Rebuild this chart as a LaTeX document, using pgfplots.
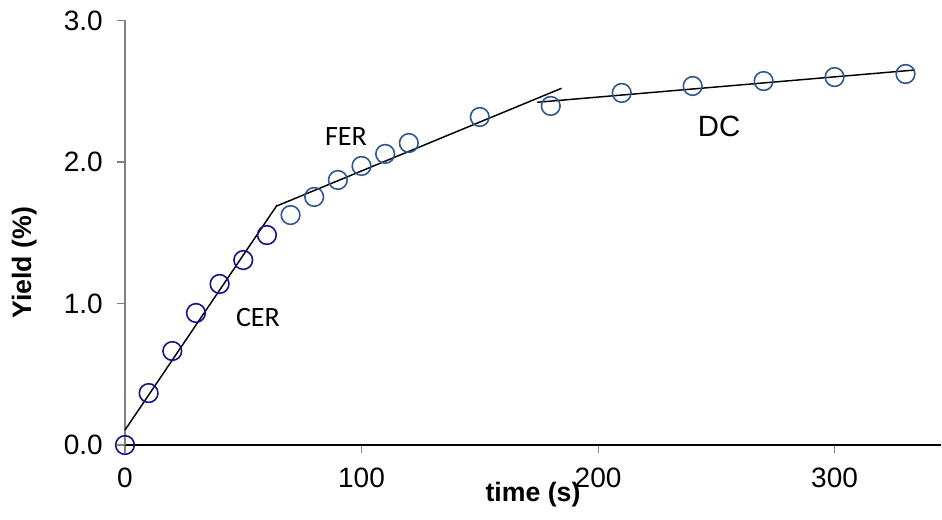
\documentclass[border=0pt]{standalone}
\usepackage{fontspec}
\setmainfont{Liberation Sans}
\newfontfamily\calibri{Carlito}
\usepackage{pgfplots}
\pgfplotsset{compat=1.18}

\definecolor{navymark}{RGB}{20,20,140}
\definecolor{steelmark}{RGB}{47,88,145}
\definecolor{axisgray}{RGB}{128,128,128}

\begin{document}
\begin{tikzpicture}
\begin{axis}[
  scale only axis,
  width=612pt, height=318.4pt,
  xmin=0, xmax=345, ymin=0, ymax=3,
  clip=false,
  axis x line*=bottom, axis y line*=left,
  x axis line style={black, line width=0.8pt, -},
  y axis line style={axisgray, line width=0.8pt, -},
  xtick={0,100,200,300}, ytick={0,1,2,3},
  tick align=outside,
  major tick length=6pt,
  every tick/.style={axisgray, line width=0.8pt},
  /pgf/number format/assume math mode=true,
  yticklabel style={/pgf/number format/fixed, /pgf/number format/fixed zerofill, /pgf/number format/precision=1},
  ticklabel style={font=\fontsize{21}{24}\selectfont, inner sep=0pt},
  xticklabel style={yshift=-11pt},
  yticklabel style={xshift=-10.5pt},
  xlabel={\bfseries time (s)},
  ylabel={\bfseries Yield (\%)},
  label style={font=\fontsize{20}{23}\selectfont, inner sep=0pt},
  xlabel style={at={(rel axis cs:0.5,0)}, anchor=north, yshift=-28pt},
  ylabel style={at={(rel axis cs:0,0.429)}, anchor=south, yshift=66pt},
  every axis plot/.append style={line width=1.1pt},
]
\coordinate (o) at (rel axis cs:0,0);

% fitted regimes
\addplot[black, no markers] coordinates {(0,0.106) (64.3,1.695)};
\addplot[black, no markers] coordinates {(64.3,1.69) (184.6,2.521)};
\addplot[black, no markers] coordinates {(174.3,2.422) (334,2.650)};

% measured yield, constant extraction rate period
\addplot[only marks, mark=o, mark size=7pt, navymark, mark options={line width=1.2pt}]
  coordinates {(0,0) (10,0.367) (20,0.664) (30,0.933) (40,1.138) (50,1.307) (60,1.484)};
% measured yield, falling rate and diffusion periods
\addplot[only marks, mark=o, mark size=7pt, steelmark, mark options={line width=1.2pt}]
  coordinates {(70,1.625) (80,1.753) (90,1.873) (100,1.972) (110,2.057) (120,2.134)
               (150,2.318) (180,2.396) (210,2.488) (240,2.537) (270,2.572) (300,2.600) (330,2.622)};

\node[anchor=base, font=\calibri\fontsize{21}{24}\selectfont, inner sep=0pt] at (axis cs:56.2,0.834) {CER};
\node[anchor=base, font=\calibri\fontsize{21}{24}\selectfont, inner sep=0pt] at (axis cs:93.4,2.12) {FER};
\node[anchor=base, font=\fontsize{22}{26}\selectfont, inner sep=0pt] at (axis cs:251.2,2.177) {DC};
\end{axis}
\pgfresetboundingbox
\path[use as bounding box] (o) ++(-93.75pt,-55.5pt) rectangle ++(706.5pt,389.25pt);
\end{tikzpicture}
\end{document}
